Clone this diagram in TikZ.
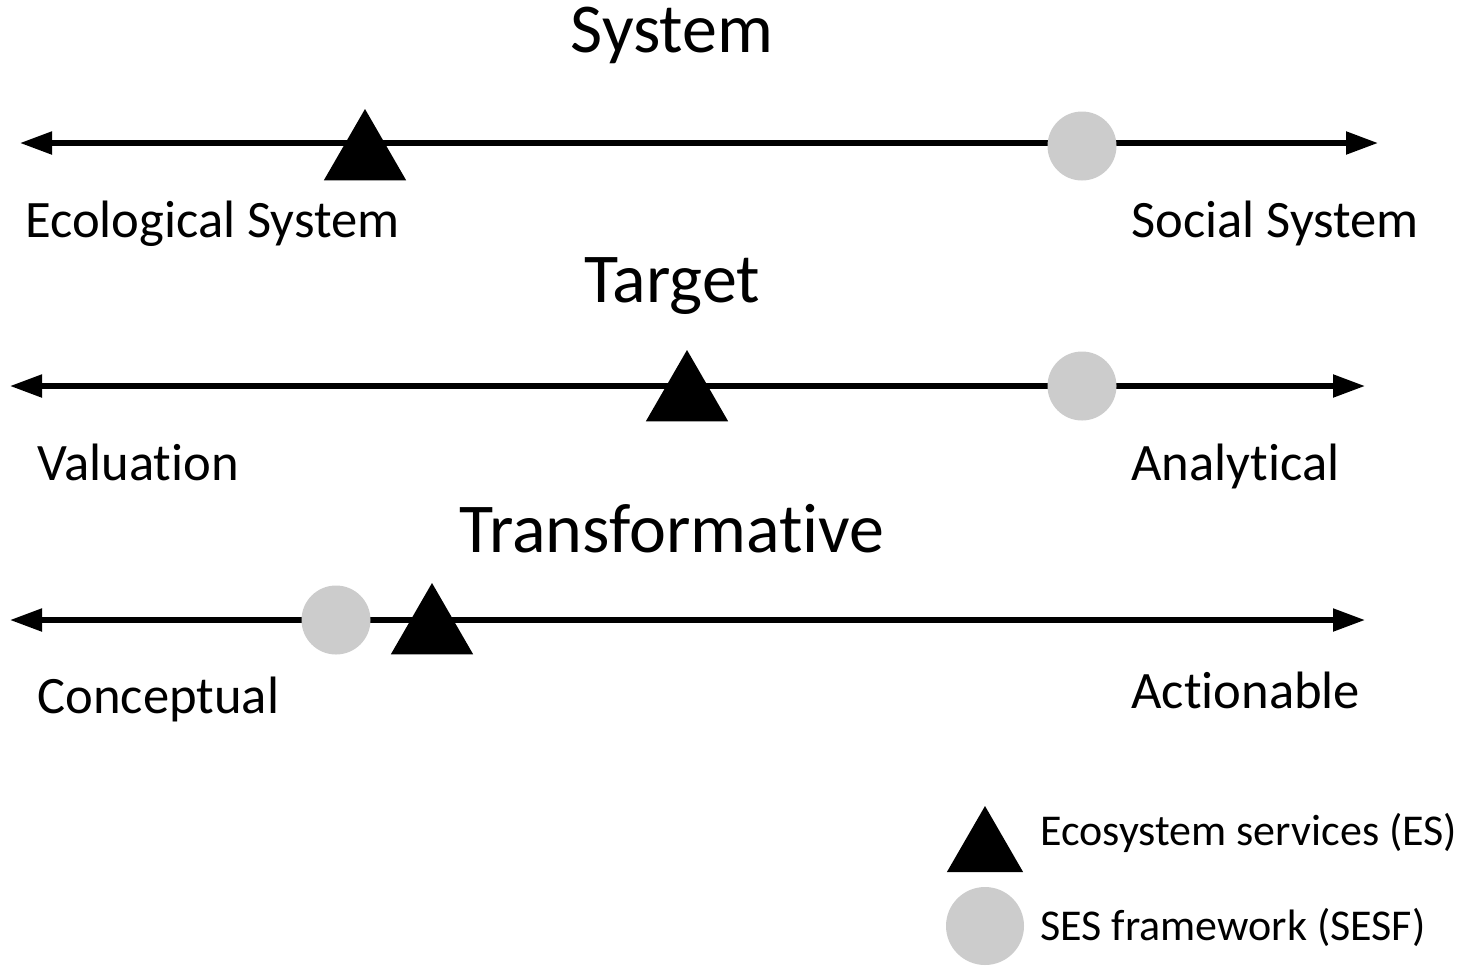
\documentclass[tikz,border=0pt]{standalone}
\usepackage{fontspec}
\setmainfont[Ligatures=NoCommon]{Carlito}
\usetikzlibrary{shapes.geometric, arrows.meta, positioning}
\definecolor{sesfGray}{RGB}{204, 204, 204}
\tikzstyle{axis} = [line width=2.6pt, {Triangle[length=16pt, width=11pt]}-{Triangle[length=16pt, width=11pt]}]
\tikzstyle{esMark} = [regular polygon, regular polygon sides=3, fill=black, inner sep=0pt, outer sep=0pt, minimum size=47.5pt, anchor=corner 1]
\tikzstyle{sesfMark} = [circle, fill=sesfGray, inner sep=0pt, outer sep=0pt, minimum size=34.5pt]
\tikzstyle{title} = [font=\fontsize{35}{40}\selectfont, anchor=base, inner sep=0pt]
\tikzstyle{endText} = [font=\fontsize{26.3}{30}\selectfont, anchor=base west, inner sep=0pt]
\tikzstyle{keyText} = [font=\fontsize{22}{26}\selectfont, anchor=base west, inner sep=0pt]

\begin{document}
\begin{tikzpicture}[x=0.5pt, y=-0.5pt]
\useasboundingbox (0,0) rectangle (1461,965);

% System
\node (sysTitle) [title] at (672,52) {System};
\coordinate (sysL) at (20,143);
\coordinate (sysR) at (1378,143);
\draw [axis] (sysL) -- (sysR);
\node (sysES) [esMark] at (365,109) {};
\node (sysSESF) [sesfMark] at (1082,146) {};
\node (sysLeft) [endText] at (25,237) {Ecological System};
\node (sysRight) [endText] at (1131,237) {Social System};

% Target
\node (tgtTitle) [title] at (672,302) {Target};
\coordinate (tgtL) at (10,386);
\coordinate (tgtR) at (1365,386);
\draw [axis] (tgtL) -- (tgtR);
\node (tgtES) [esMark] at (687,350) {};
\node (tgtSESF) [sesfMark] at (1082,386) {};
\node (tgtLeft) [endText] at (37,480) {Valuation};
\node (tgtRight) [endText] at (1131,480) {Analytical};

% Transformative
\node (trfTitle) [title] at (672,552) {Transformative};
\coordinate (trfL) at (10,620);
\coordinate (trfR) at (1365,620);
\draw [axis] (trfL) -- (trfR);
\node (trfSESF) [sesfMark] at (336,620) {};
\node (trfES) [esMark] at (432,583) {};
\node (trfLeft) [endText] at (37,713) {Conceptual};
\node (trfRight) [endText] at (1131,708) {Actionable};

% legend
\node (keyES) [esMark, minimum size=44pt] at (985,806) {};
\node (keySESF) [sesfMark, minimum size=39pt] at (985,926) {};
\node (keyESText) [keyText] at (1040,845) {Ecosystem services (ES)};
\node (keySESFText) [keyText] at (1040,940) {SES framework (SESF)};

\end{tikzpicture}
\end{document}
